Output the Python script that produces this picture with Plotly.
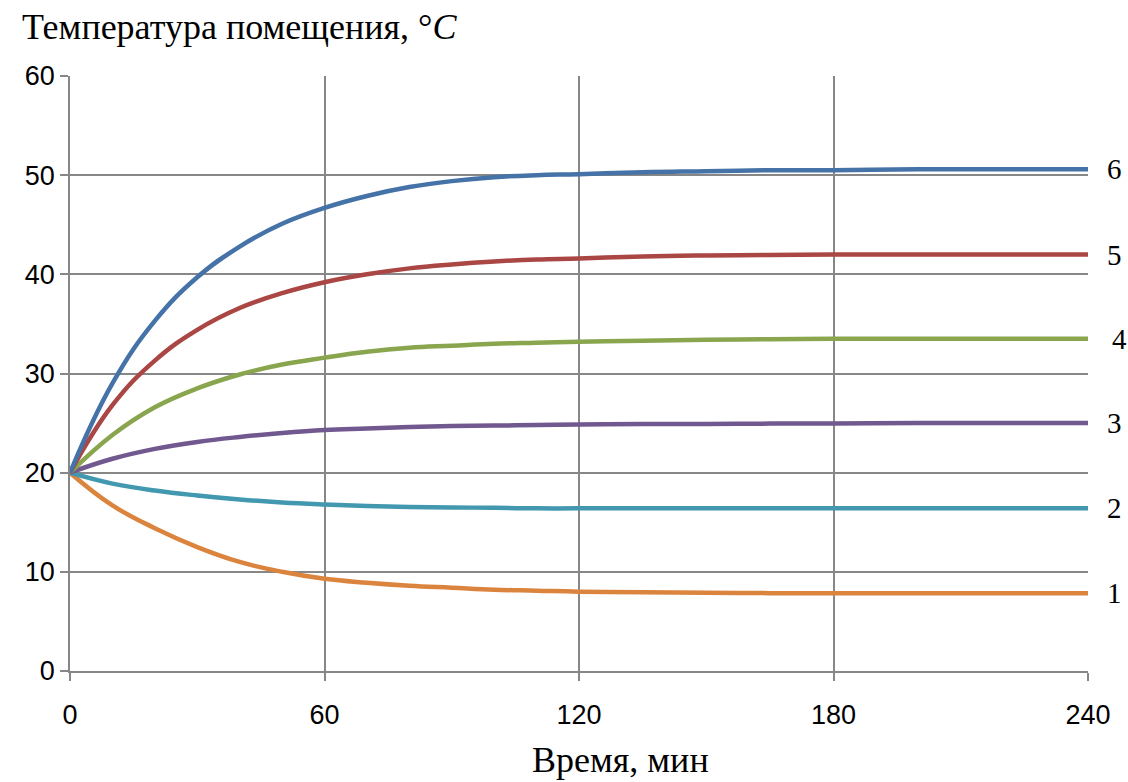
import plotly.graph_objects as go

time_min = [0, 10, 20, 30, 40, 50, 60, 70, 80, 90, 100, 110, 120, 135, 150, 165, 180, 200, 220, 240]

series_1 = [20, 16.7, 14.4, 12.5, 11.0, 10.0, 9.3, 8.9, 8.6, 8.4, 8.2, 8.1, 8.0, 7.95, 7.9, 7.85, 7.85, 7.85, 7.85, 7.85]
series_2 = [20, 18.9, 18.2, 17.7, 17.3, 17.0, 16.8, 16.65, 16.55, 16.5, 16.45, 16.4, 16.4, 16.4, 16.4, 16.4, 16.4, 16.4, 16.4, 16.4]
series_3 = [20, 21.4, 22.4, 23.1, 23.6, 24.0, 24.3, 24.45, 24.6, 24.7, 24.75, 24.8, 24.85, 24.9, 24.9, 24.95, 24.95, 25.0, 25.0, 25.0]
series_4 = [20, 23.8, 26.6, 28.5, 29.9, 30.9, 31.6, 32.2, 32.6, 32.8, 33.0, 33.1, 33.2, 33.3, 33.4, 33.45, 33.5, 33.5, 33.5, 33.5]
series_5 = [20, 26.8, 31.3, 34.4, 36.6, 38.1, 39.2, 40.0, 40.6, 41.0, 41.3, 41.5, 41.6, 41.8, 41.9, 41.95, 42.0, 42.0, 42.0, 42.0]
series_6 = [20, 29.0, 35.3, 39.7, 42.8, 45.1, 46.7, 47.9, 48.8, 49.4, 49.8, 50.0, 50.1, 50.3, 50.4, 50.5, 50.5, 50.6, 50.6, 50.6]

series_labels = ["1", "2", "3", "4", "5", "6"]
series_values = [series_1, series_2, series_3, series_4, series_5, series_6]
colors = ["#DB843D", "#4198AF", "#71588F", "#89A54E", "#AA4643", "#4572A7"]

x_ticks = [0, 60, 120, 180, 240]
y_ticks = [0, 10, 20, 30, 40, 50, 60]

fig = go.Figure()
for name, vals, col in zip(series_labels, series_values, colors):
    fig.add_trace(go.Scatter(x=time_min, y=vals, mode="lines", name=name,
                             line=dict(color=col, width=4.5, shape="spline", smoothing=1.2),
                             showlegend=False))

annotations = []
for name, vals in zip(series_labels, series_values):
    annotations.append(dict(x=1, xref="paper", y=vals[-1], yref="y", text=name,
                            showarrow=False, xanchor="left", yanchor="middle",
                            xshift=17 if name != "4" else 22,
                            font=dict(family="Liberation Serif", size=29, color="black")))

annotations.append(dict(x=0, xref="paper", y=1, yref="paper", text="Температура помещения, °<i>C</i>",
                        showarrow=False, xanchor="left", yanchor="bottom", xshift=-50, yshift=27,
                        font=dict(family="Liberation Serif", size=36, color="black")))

annotations.append(dict(x=0.5, xref="paper", y=0, yref="paper", text="Время, мин",
                        showarrow=False, xanchor="center", yanchor="middle", xshift=41, yshift=-89,
                        font=dict(family="Liberation Serif", size=36, color="black")))

fig.update_layout(
    width=1128, height=782,
    margin=dict(l=70, r=40, t=76, b=111, autoexpand=False),
    plot_bgcolor="white", paper_bgcolor="white",
    annotations=annotations,
    xaxis=dict(range=[0, 240], tickvals=x_ticks, showgrid=True, gridcolor="#878787", gridwidth=1.5,
               showline=True, linecolor="#878787", linewidth=1.5, ticks="outside", ticklen=8,
               tickcolor="#878787", tickwidth=1.5, zeroline=False, automargin=False,
               ticklabelstandoff=11,
               tickfont=dict(family="Liberation Sans", size=27, color="black")),
    yaxis=dict(range=[0, 60], tickvals=y_ticks, showgrid=True, gridcolor="#878787", gridwidth=1.5,
               showline=True, linecolor="#878787", linewidth=1.5, ticks="outside", ticklen=8,
               tickcolor="#878787", tickwidth=1.5, zeroline=False, automargin=False,
               tickfont=dict(family="Liberation Sans", size=27, color="black")),
)

fig.write_html("out.html")
